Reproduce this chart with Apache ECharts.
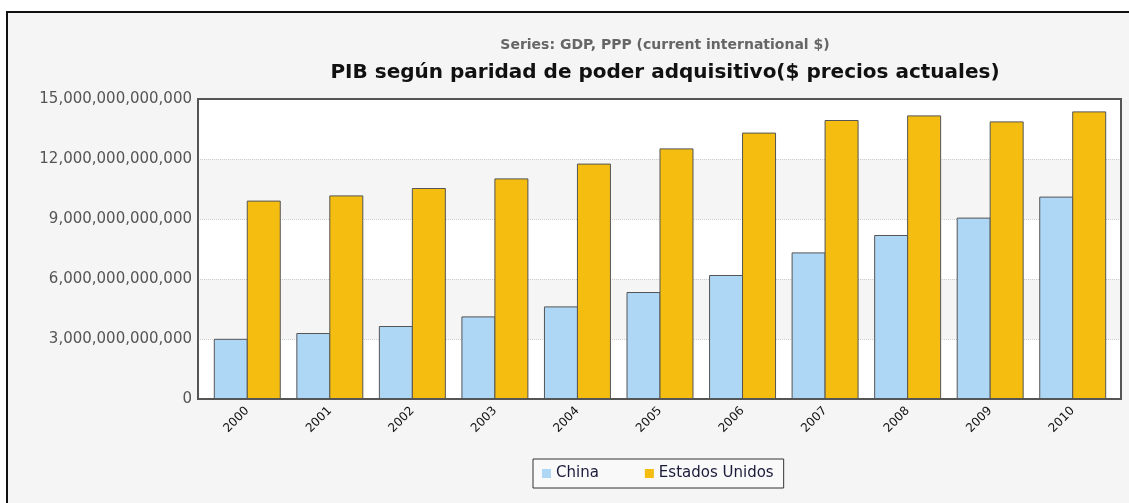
<!DOCTYPE html>
<html>
<head>
<meta charset="utf-8">
<script src="https://cdn.jsdelivr.net/npm/echarts@6/dist/echarts.min.js"></script>
<style>
  html, body { margin: 0; padding: 0; background: #fff; }
  #frame {
    position: absolute; left: 6px; top: 11px; width: 1130px; height: 500px;
    border-left: 2px solid #111; border-top: 2px solid #111; background: #f5f5f5;
  }
  #main { position: absolute; left: 0; top: 0; width: 1129px; height: 503px; }
</style>
</head>
<body>
<div id="frame"></div>
<div id="main"></div>
<script>
// datos
const years = ['2000', '2001', '2002', '2003', '2004', '2005', '2006', '2007', '2008', '2009', '2010'];
const china = [3.01e12, 3.30e12, 3.65e12, 4.13e12, 4.63e12, 5.35e12, 6.20e12, 7.33e12, 8.20e12, 9.07e12, 10.12e12];
const eeuu = [9.92e12, 10.18e12, 10.55e12, 11.03e12, 11.77e12, 12.53e12, 13.32e12, 13.95e12, 14.18e12, 13.88e12, 14.38e12];
const yTicks = [0, 3e12, 6e12, 9e12, 12e12, 15e12];

const font = 'DejaVu Sans, Verdana, sans-serif';
const chart = echarts.init(document.getElementById('main'), null, { renderer: 'canvas' });

function fmt(v) {
    return Math.round(v).toString().replace(/\B(?=(\d{3})+(?!\d))/g, ',');
}

const plotBox = { left: 198, right: 8, top: 99, bottom: 104 };

var option = {
    backgroundColor: 'transparent',
    animation: false,
    title: [{
        text: 'Series: GDP, PPP (current international $)',
        left: 660,
        top: 33,
        textAlign: 'center',
        textStyle: { fontFamily: font, fontSize: 14, fontWeight: 'bold', color: '#666' }
    }, {
        text: 'PIB según paridad de poder adquisitivo($ precios actuales)',
        left: 660,
        top: 58,
        textAlign: 'center',
        textStyle: { fontFamily: font, fontSize: 20, fontWeight: 'bold', color: '#111' }
    }],
    legend: {
        data: ['China', 'Estados Unidos'],
        left: 533,
        top: 459,
        orient: 'horizontal',
        icon: 'rect',
        itemWidth: 9,
        itemHeight: 9,
        itemGap: 46,
        padding: [7, 10, 7, 9],
        borderColor: '#333',
        borderWidth: 1,
        backgroundColor: '#f9f9f9',
        itemStyle: { borderWidth: 0 },
        textStyle: { fontFamily: font, fontSize: 15, color: '#1a1a3a' }
    },
    grid: [
        // fondo del area de trazado
        Object.assign({ show: true, backgroundColor: '#fff', borderWidth: 0 }, plotBox),
        // area de barras
        { left: 206, right: 15, top: 99, bottom: 104 },
        // marco encima
        Object.assign({ show: true, backgroundColor: 'transparent', borderColor: '#555', borderWidth: 2, z: 5 }, plotBox)
    ],
    xAxis: [{
        gridIndex: 0, type: 'category', data: years, show: false
    }, {
        gridIndex: 1,
        type: 'category',
        data: years,
        axisLine: { show: false },
        axisTick: { show: false },
        axisLabel: {
            rotate: 45,
            margin: 10,
            fontFamily: font,
            fontSize: 12,
            color: '#111'
        }
    }, {
        gridIndex: 2, type: 'category', data: years, show: false
    }],
    yAxis: [{
        gridIndex: 0,
        type: 'value',
        min: yTicks[0],
        max: yTicks[yTicks.length - 1],
        interval: yTicks[1] - yTicks[0],
        axisLine: { show: false },
        axisTick: { show: false },
        axisLabel: {
            margin: 6,
            fontFamily: font,
            fontSize: 15,
            color: '#555',
            formatter: fmt
        },
        splitLine: { show: true, lineStyle: { color: '#ccc', type: 'dotted', width: 1 } },
        splitArea: { show: true, areaStyle: { color: ['#fff', '#f5f5f5'] } }
    }, {
        gridIndex: 1, type: 'value', min: yTicks[0], max: yTicks[yTicks.length - 1],
        show: false, splitLine: { show: false }
    }, {
        gridIndex: 2, type: 'value', min: yTicks[0], max: yTicks[yTicks.length - 1],
        show: false, splitLine: { show: false }
    }],
    series: [{
        name: 'China',
        type: 'bar',
        xAxisIndex: 1,
        yAxisIndex: 1,
        barWidth: 34,
        barGap: '-3%',
        itemStyle: { color: '#aed6f5', borderColor: '#555', borderWidth: 1 },
        data: china
    }, {
        name: 'Estados Unidos',
        type: 'bar',
        xAxisIndex: 1,
        yAxisIndex: 1,
        barWidth: 34,
        barGap: '-3%',
        itemStyle: { color: '#f5bd0f', borderColor: '#555', borderWidth: 1 },
        data: eeuu
    }]
};
chart.setOption(option, true);
</script>
</body>
</html>
